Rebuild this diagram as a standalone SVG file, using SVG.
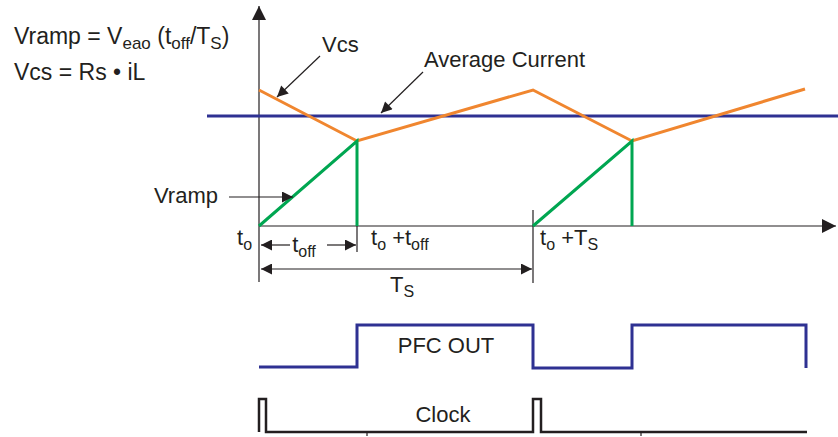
<svg xmlns="http://www.w3.org/2000/svg" width="838" height="437" viewBox="0 0 838 437">
<defs>
<marker id="ah" viewBox="0 0 10 10" refX="10" refY="5" markerWidth="16" markerHeight="11" markerUnits="userSpaceOnUse" orient="auto"><path d="M0,0 L10,5 L0,10 Z" fill="#231f20"/></marker>
<marker id="axh" viewBox="0 0 10 10" refX="10" refY="5" markerWidth="18" markerHeight="14" markerUnits="userSpaceOnUse" orient="auto"><path d="M0,0 L10,5 L0,10 Z" fill="#231f20"/></marker>
</defs>
<style>
text{font-family:"Liberation Sans",Arial,sans-serif;font-size:22px;fill:#231f20}
.sub{font-size:16px}
.f{font-size:23px}
.fs{font-size:17px}
.ax{stroke:#231f20;stroke-width:1.2;fill:none}
.ld{stroke:#231f20;stroke-width:1.2;fill:none;marker-end:url(#ah)}
.or{stroke:#f0862f;stroke-width:3;fill:none}
.gr{stroke:#00a651;stroke-width:3;fill:none}
.bl{stroke:#2e3192;stroke-width:3;fill:none}
.ck{stroke:#231f20;stroke-width:2.5;fill:none}
</style>
<g id="formulas">
<text class="f" x="14" y="44">Vramp = V<tspan class="fs" dy="5">eao</tspan><tspan dy="-5"> (t</tspan><tspan class="fs" dy="5">off</tspan><tspan dy="-5">/T</tspan><tspan class="fs" dy="5">S</tspan><tspan dy="-5">)</tspan></text>
<text class="f" x="14" y="80">Vcs = Rs • iL</text>
</g>
<g id="axes">
<line class="ax" x1="259" y1="282" x2="259" y2="6" marker-end="url(#axh)"/>
<line class="ax" x1="259" y1="226" x2="836" y2="226" marker-end="url(#axh)"/>
<line class="ax" x1="357" y1="226" x2="357" y2="252"/>
<line class="ax" x1="533" y1="210" x2="533" y2="283"/>
</g>
<g id="average-current">
<line class="bl" x1="207" y1="116" x2="838" y2="116"/>
</g>
<g id="vcs-wave">
<polyline class="or" points="259,90 357,141 533,90 632,141 805,89"/>
</g>
<g id="vramp-wave">
<polyline class="gr" points="259,226 357,141 357,226"/>
<polyline class="gr" points="533,226 632,141 632,226"/>
</g>
<g id="connectors">
<line class="ld" x1="320" y1="56" x2="277" y2="97"/>
<line class="ld" x1="423" y1="72" x2="381" y2="113"/>
<line class="ld" x1="229" y1="197" x2="293" y2="197"/>
<line class="ld" x1="290" y1="245" x2="261" y2="245"/>
<line class="ld" x1="327" y1="245" x2="356" y2="245"/>
<line class="ld" x1="300" y1="269" x2="261" y2="269"/>
<line class="ld" x1="300" y1="269" x2="532" y2="269"/>
</g>
<g id="labels">
<text x="322" y="52">Vcs</text>
<text x="424" y="67">Average Current</text>
<text x="154" y="203">Vramp</text>
<text x="237" y="245">t<tspan class="sub" dy="5">o</tspan></text>
<text x="304" y="252" text-anchor="middle">t<tspan class="sub" dy="5">off</tspan></text>
<text x="371" y="245">t<tspan class="sub" dy="5">o</tspan><tspan dy="-5"> +t</tspan><tspan class="sub" dy="5">off</tspan></text>
<text x="540" y="245">t<tspan class="sub" dy="5">o</tspan><tspan dy="-5"> +T</tspan><tspan class="sub" dy="5">S</tspan></text>
<text x="390" y="292">T<tspan class="sub" dy="5">S</tspan></text>
</g>
<g id="pfc-out">
<polyline class="bl" points="259,367 357,367 357,325 533,325 533,368 632,368 632,325 806,325 806,368"/>
<text x="446" y="353" text-anchor="middle">PFC OUT</text>
</g>
<g id="clock">
<polyline class="ck" points="259,432 259,399 266,399 266,432 533,432 533,399 541,399 541,432 807,432"/>
<line class="ax" x1="367" y1="432" x2="367" y2="436"/>
<line class="ax" x1="641" y1="432" x2="641" y2="436"/>
<text x="443" y="422" text-anchor="middle">Clock</text>
</g>
</svg>
